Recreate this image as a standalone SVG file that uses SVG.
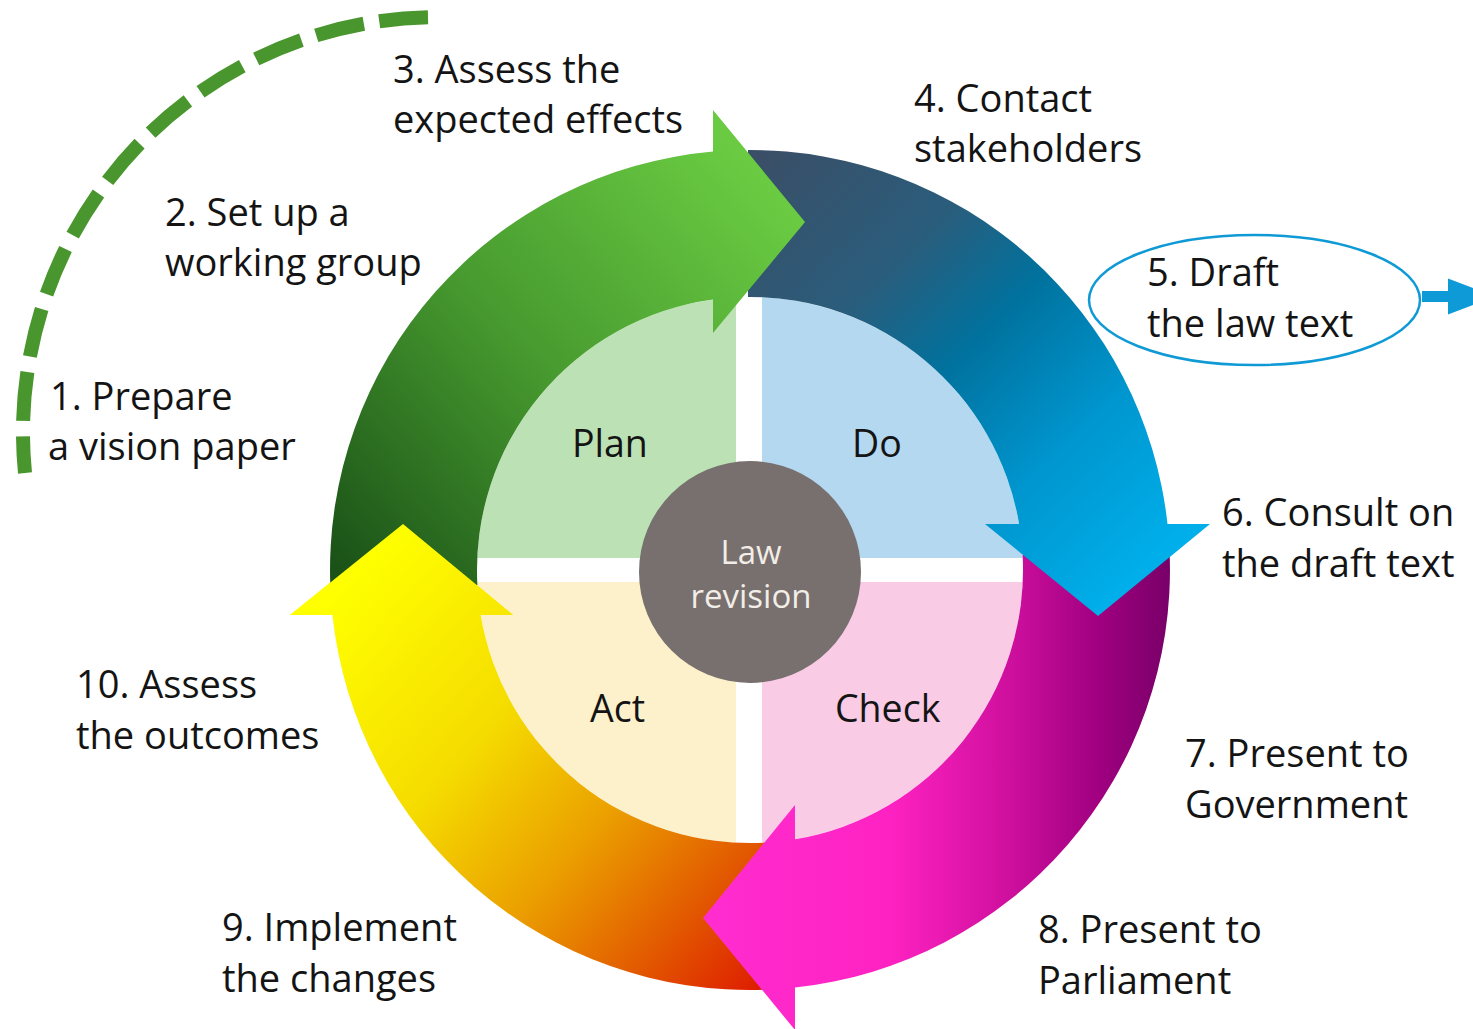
<svg xmlns="http://www.w3.org/2000/svg" width="1473" height="1029" viewBox="0 0 1473 1029">
  <style>
    .lbl { font-family: "Open Sans", "Noto Sans", "DejaVu Sans", sans-serif; font-size: 38px; fill: #141414; }
    .quad { font-family: "Open Sans", "Noto Sans", "DejaVu Sans", sans-serif; font-size: 37.5px; fill: #141414; }
    .ctr { font-family: "Open Sans", "Noto Sans", "DejaVu Sans", sans-serif; font-size: 33px; fill: #f2ede6; text-anchor: middle; }
  </style>
  <defs>
    <linearGradient id="gGreen" gradientUnits="userSpaceOnUse" x1="340" y1="570" x2="760" y2="180">
      <stop offset="0" stop-color="#1b5218"/>
      <stop offset="0.5" stop-color="#479a2f"/>
      <stop offset="1" stop-color="#6acb42"/>
    </linearGradient>
    <linearGradient id="gBlue" gradientUnits="userSpaceOnUse" x1="760" y1="160" x2="1150" y2="560">
      <stop offset="0" stop-color="#3a4f67"/>
      <stop offset="0.3" stop-color="#2a5d7c"/>
      <stop offset="0.5" stop-color="#00729e"/>
      <stop offset="0.75" stop-color="#0096cf"/>
      <stop offset="1" stop-color="#00aee9"/>
    </linearGradient>
    <linearGradient id="gMag" gradientUnits="userSpaceOnUse" x1="700" y1="0" x2="1170" y2="0">
      <stop offset="0" stop-color="#ff2dd0"/>
      <stop offset="0.4" stop-color="#ff22c2"/>
      <stop offset="0.65" stop-color="#d0109f"/>
      <stop offset="0.85" stop-color="#a00080"/>
      <stop offset="1" stop-color="#780068"/>
    </linearGradient>
    <linearGradient id="gOrange" gradientUnits="userSpaceOnUse" x1="330" y1="600" x2="760" y2="990">
      <stop offset="0" stop-color="#ffff00"/>
      <stop offset="0.35" stop-color="#f5dc00"/>
      <stop offset="0.6" stop-color="#eba000"/>
      <stop offset="0.8" stop-color="#e36000"/>
      <stop offset="1" stop-color="#de1c00"/>
    </linearGradient>
  </defs>

  <g id="quadrants">
    <g id="plan">
      <path d="M736,558 L477.3,558 A273,273 0 0 1 736,297.4 Z" fill="#bce1b4"/>
      <text class="quad" x="572" y="457">Plan</text>
    </g>
    <g id="do">
      <path d="M762,558 L762,297.3 A273,273 0 0 1 1022.7,558 Z" fill="#b4d8ef"/>
      <text class="quad" x="852" y="457">Do</text>
    </g>
    <g id="check">
      <path d="M762,582 L1022.7,582 A273,273 0 0 1 762,842.7 Z" fill="#f9cbe5"/>
      <text class="quad" x="835" y="722">Check</text>
    </g>
    <g id="act">
      <path d="M736,582 L736,842.6 A273,273 0 0 1 477.3,582 Z" fill="#fdf1cb"/>
      <text class="quad" x="590" y="722">Act</text>
    </g>
  </g>

  <g id="connectors">
    <path id="arc-orange" d="M765,989.7 A420,420 0 0 1 332.4,615 L290,615 L403,524 L513,615 L480.7,615 A273,273 0 0 0 765,842.6 Z" fill="url(#gOrange)"/>
    <path id="arc-magenta" d="M1169.7,555 A420,420 0 0 1 795,987.6 L795,1030 L703,918 L795,805 L795,839.3 A273,273 0 0 0 1022.6,555 Z" fill="url(#gMag)"/>
    <path id="arc-blue" d="M748,150 A420,420 0 0 1 1167.5,524 L1210,524 L1098,616 L985,524 L1019.1,524 A273,273 0 0 0 748,297 Z" fill="url(#gBlue)"/>
    <path id="arc-green" d="M330.3,585 A420,420 0 0 1 713,151.6 L713,110 L805,222 L713,333 L713,299.5 A273,273 0 0 0 477.4,585 Z" fill="url(#gGreen)"/>
    <path id="arc-orange-head" d="M290,615 L403,524 L513,615 Z" fill="url(#gOrange)"/>
    <path id="dashed-arc" d="M428,17.2 A415,415 0 0 0 25,473" fill="none" stroke="#4a962e" stroke-width="14" stroke-dasharray="49 15.6"/>
    <path id="out-arrow" d="M1422,291 L1448,291 L1448,278.5 L1495,296.5 L1448,314.5 L1448,302 L1422,302 Z" fill="#0e9ad6"/>
  </g>

  <g id="center">
    <circle cx="750" cy="572" r="111" fill="#786f6f"/>
    <text class="ctr" x="751" y="564">Law</text>
    <text class="ctr" x="751" y="608">revision</text>
  </g>

  <g id="step1"><text class="lbl" x="50" y="410">1. Prepare</text><text class="lbl" x="48" y="460">a vision paper</text></g>
  <g id="step2"><text class="lbl" x="165" y="226">2. Set up a</text><text class="lbl" x="165" y="276">working group</text></g>
  <g id="step3"><text class="lbl" x="393" y="83">3. Assess the</text><text class="lbl" x="393" y="133">expected effects</text></g>
  <g id="step4"><text class="lbl" x="914" y="112">4. Contact</text><text class="lbl" x="914" y="162">stakeholders</text></g>
  <g id="step5">
    <ellipse cx="1254.5" cy="300" rx="165.5" ry="65" fill="none" stroke="#0f9ad6" stroke-width="2.5"/>
    <text class="lbl" x="1147" y="286">5. Draft</text><text class="lbl" x="1147" y="337">the law text</text>
  </g>
  <g id="step6"><text class="lbl" x="1222" y="526">6. Consult on</text><text class="lbl" x="1222" y="577">the draft text</text></g>
  <g id="step7"><text class="lbl" x="1185" y="767">7. Present to</text><text class="lbl" x="1185" y="818">Government</text></g>
  <g id="step8"><text class="lbl" x="1038" y="943">8. Present to</text><text class="lbl" x="1038" y="994">Parliament</text></g>
  <g id="step9"><text class="lbl" x="222" y="941">9. Implement</text><text class="lbl" x="222" y="992">the changes</text></g>
  <g id="step10"><text class="lbl" x="76" y="698">10. Assess</text><text class="lbl" x="76" y="749">the outcomes</text></g>
</svg>
